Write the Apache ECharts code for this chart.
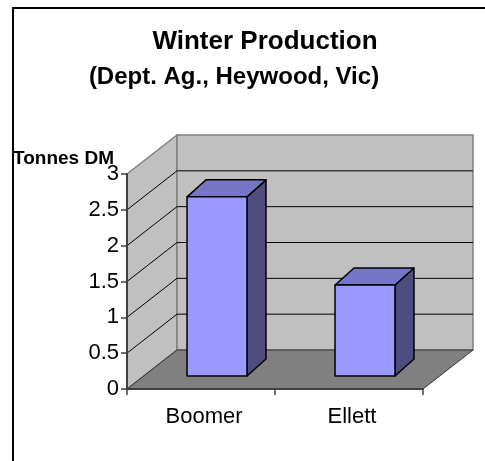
<!DOCTYPE html>
<html>
<head>
<meta charset="utf-8">
<script src="https://cdn.jsdelivr.net/npm/echarts@6/dist/echarts.min.js"></script>
<style>html,body{margin:0;padding:0;background:#fff}#chart{width:485px;height:461px}</style>
</head>
<body>
<div id="chart"></div>
<script>
const categories = ['Boomer', 'Ellett'];
const values = [2.5, 1.27];
const yTicks = [0, 0.5, 1, 1.5, 2, 2.5, 3];
const titleText = 'Winter Production';
const subtitleText = '(Dept. Ag., Heywood, Vic)';
const yAxisTitle = 'Tonnes DM';

const FONT = '"Liberation Sans", Arial, sans-serif';
const DX = 50, DY = -39;          // wall depth
const BOX = 16, BOY = -13;        // bar front offset into depth
const BDX = 19, BDY = -17;        // bar depth

const chart = echarts.init(document.getElementById('chart'), null, {renderer: 'canvas'});

const wallSeries = {
  type: 'custom', z: 1, silent: true,
  data: [[0, 0]],
  renderItem: function (params, api) {
    const cs = params.coordSys;
    const L = cs.x, R = cs.x + cs.width;
    const B = api.coord([0, yTicks[0]])[1];
    const T = api.coord([0, yTicks[yTicks.length - 1]])[1];
    return {
      type: 'group',
      children: [
        {type: 'polygon', shape: {points: [[L, B], [L, T], [L + DX, T + DY], [L + DX, B + DY]]},
         style: {fill: '#C0C0C0', stroke: '#808080', lineWidth: 1.5}},
        {type: 'polygon', shape: {points: [[L + DX, T + DY], [R + DX, T + DY], [R + DX, B + DY], [L + DX, B + DY]]},
         style: {fill: '#C0C0C0', stroke: '#808080', lineWidth: 1.5}},
        {type: 'polygon', shape: {points: [[L, B], [R, B], [R + DX, B + DY], [L + DX, B + DY]]},
         style: {fill: '#808080', stroke: '#333333', lineWidth: 1}}
      ]
    };
  }
};

const gridSeries = {
  type: 'custom', z: 2, silent: true,
  data: yTicks.slice(1, -1).map(v => [0, v]),
  renderItem: function (params, api) {
    const cs = params.coordSys;
    const L = cs.x, R = cs.x + cs.width;
    const y = api.coord([0, api.value(1)])[1];
    return {
      type: 'polyline',
      shape: {points: [[L, y], [L + DX, y + DY], [R + DX, y + DY]]},
      style: {stroke: '#000', lineWidth: 1, fill: null}
    };
  }
};

const barSeries = {
  type: 'custom', z: 3,
  data: values.map((v, i) => [i, v]),
  renderItem: function (params, api) {
    const base = api.coord([api.value(0), 0]);
    const top = api.coord([api.value(0), api.value(1)]);
    const band = api.size([1, 0])[0];
    const w = band * 0.405;
    const x0 = base[0] - w / 2 + BOX, x1 = x0 + w;
    const yb = base[1] + BOY, yt = top[1] + BOY;
    const st = {stroke: '#000', lineWidth: 1.5, lineJoin: 'round'};
    return {
      type: 'group',
      children: [
        {type: 'polygon', shape: {points: [[x1, yt], [x1 + BDX, yt + BDY], [x1 + BDX, yb + BDY], [x1, yb]]},
         style: Object.assign({fill: '#4D4D80'}, st)},
        {type: 'polygon', shape: {points: [[x0, yt], [x0 + BDX, yt + BDY], [x1 + BDX, yt + BDY], [x1, yt]]},
         style: Object.assign({fill: '#7676C6'}, st)},
        {type: 'polygon', shape: {points: [[x0, yt], [x1, yt], [x1, yb], [x0, yb]]},
         style: Object.assign({fill: '#9999FF'}, st)}
      ]
    };
  }
};

chart.setOption({
  animation: false,
  backgroundColor: '#fff',
  title: [
    {text: titleText, left: 265, top: 29, textAlign: 'center', padding: 0,
     textStyle: {fontFamily: FONT, fontSize: 26, fontWeight: 'bold', color: '#000'}},
    {text: subtitleText, left: 234, top: 65, textAlign: 'center', padding: 0,
     textStyle: {fontFamily: FONT, fontSize: 24, fontWeight: 'bold', color: '#000'}},
    {text: yAxisTitle, left: 13, top: 149, padding: 0,
     textStyle: {fontFamily: FONT, fontSize: 19, fontWeight: 'bold', color: '#000'}}
  ],
  graphic: [
    {type: 'polyline', shape: {points: [[13, 470], [13, 8], [490, 8]]},
     style: {stroke: '#000', lineWidth: 2, fill: null}, z: 10}
  ],
  grid: {left: 127, top: 174, width: 296, height: 215},
  xAxis: {
    type: 'category', data: categories,
    axisLine: {show: true, lineStyle: {color: '#404040', width: 2}},
    axisTick: {show: true, length: 6, lineStyle: {color: '#404040', width: 1.5}},
    axisLabel: {fontFamily: FONT, fontSize: 22, color: '#000', margin: 17, padding: [0, 0, 0, 6]},
    z: 5
  },
  yAxis: {
    type: 'value', min: 0, max: 3, interval: 0.5,
    axisLine: {show: true, lineStyle: {color: '#404040', width: 2}},
    axisTick: {show: true, length: 6, lineStyle: {color: '#404040', width: 1.5}},
    axisLabel: {fontFamily: FONT, fontSize: 22, color: '#000', margin: 8},
    splitLine: {show: false},
    z: 5
  },
  series: [wallSeries, gridSeries, barSeries]
});
</script>
</body>
</html>
